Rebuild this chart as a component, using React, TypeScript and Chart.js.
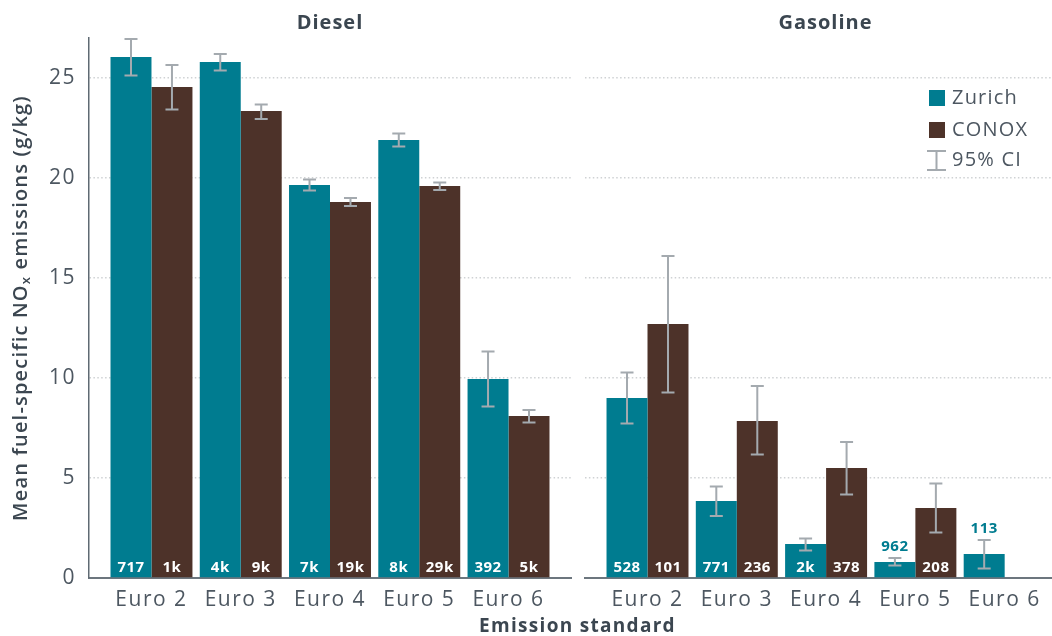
import { useEffect, useRef } from 'react';
import { Chart, registerables } from 'chart.js';

Chart.register(...registerables);

const standards = ['Euro 2', 'Euro 3', 'Euro 4', 'Euro 5', 'Euro 6'];
const panelTitles = ['Diesel', 'Gasoline'];
const seriesNames = ['Zurich', 'CONOX'];
const ciLabel = '95% CI';
const xTitle = 'Emission standard';
const yTitleParts = ['Mean fuel-specific NO', 'x', ' emissions (g/kg)'];

const dieselZurich = [26.05, 25.8, 19.65, 21.9, 9.95];
const dieselZurichLo = [25.12, 25.38, 19.38, 21.58, 8.57];
const dieselZurichHi = [26.95, 26.2, 19.92, 22.22, 11.32];
const dieselZurichN = ['717', '4k', '7k', '8k', '392'];

const dieselConox = [24.55, 23.35, 18.8, 19.6, 8.1];
const dieselConoxLo = [23.42, 22.95, 18.6, 19.4, 7.78];
const dieselConoxHi = [25.65, 23.68, 19.0, 19.78, 8.4];
const dieselConoxN = ['1k', '9k', '19k', '29k', '5k'];

const gasZurich = [9.0, 3.85, 1.7, 0.8, 1.2];
const gasZurichLo = [7.73, 3.1, 1.37, 0.62, 0.48];
const gasZurichHi = [10.28, 4.58, 1.98, 1.0, 1.9];
const gasZurichN = ['528', '771', '2k', '962', '113'];

const gasConox = [12.7, 7.85, 5.5, 3.5, null];
const gasConoxLo = [9.28, 6.17, 4.17, 2.28, null];
const gasConoxHi = [16.1, 9.6, 6.8, 4.72, null];
const gasConoxN = ['101', '236', '378', '208', ''];

const TEAL = '#007c90';
const BROWN = '#4d3229';
const TEXT = '#4d5761';
const TITLE = '#3b4650';
const ERR = '#a4aaaf';
const FONT = '"Open Sans", "Noto Sans", sans-serif';

Chart.defaults.font.family = FONT;

const spacingPlugin = {
  id: 'letterSpacing',
  beforeDraw(chart: any) {
    chart.ctx.letterSpacing = '1.5px';
  },
  afterDraw(chart: any) {
    chart.ctx.letterSpacing = '0px';
  },
};

const errorBarPlugin = {
  id: 'errorBars',
  afterDatasetsDraw(chart: any) {
    const ctx = chart.ctx;
    const ys = chart.scales.y;
    const y0 = ys.getPixelForValue(0);
    chart.data.datasets.forEach((ds: any, di: number) => {
      const meta = chart.getDatasetMeta(di);
      meta.data.forEach((el: any, j: number) => {
        const v = ds.data[j].y;
        const lo = ds.ciLo[j];
        const hi = ds.ciHi[j];
        if (v == null || lo == null || hi == null) return;
        const x = el.x;
        const yl = ys.getPixelForValue(lo);
        const yh = ys.getPixelForValue(hi);
        ctx.save();
        ctx.letterSpacing = '0.5px';
        ctx.strokeStyle = ERR;
        ctx.lineWidth = 2;
        ctx.beginPath();
        ctx.moveTo(x, yl);
        ctx.lineTo(x, yh);
        ctx.moveTo(x - 6.5, yl);
        ctx.lineTo(x + 6.5, yl);
        ctx.moveTo(x - 6.5, yh);
        ctx.lineTo(x + 6.5, yh);
        ctx.stroke();
        const n = ds.counts[j];
        if (n) {
          ctx.font = `bold 15px ${FONT}`;
          ctx.textAlign = 'center';
          ctx.textBaseline = 'middle';
          if (v >= 1.5) {
            ctx.fillStyle = '#ffffff';
            ctx.fillText(n, x, y0 - 10);
          } else {
            ctx.fillStyle = ds.backgroundColor;
            ctx.fillText(n, x, yh - 11);
          }
        }
        ctx.restore();
      });
    });
  },
};

const textPlugin = {
  id: 'extraText',
  afterDraw(chart: any) {
    const ctx = chart.ctx;
    const area = chart.chartArea;
    ctx.save();
    ctx.fillStyle = TITLE;
    ctx.textAlign = 'center';
    ctx.textBaseline = 'middle';
    ctx.letterSpacing = '1px';
    ctx.font = `bold 20px ${FONT}`;
    ctx.fillText(panelTitles[0], 330, 23);
    ctx.fillText(panelTitles[1], 825.5, 23);
    ctx.letterSpacing = '1.3px';
    ctx.font = `bold 19px ${FONT}`;
    ctx.fillText(xTitle, 577.5, 627);
    // rotated y title with subscript
    ctx.letterSpacing = '1.2px';
    const mainFont = `600 20px ${FONT}`;
    const subFont = `600 13px ${FONT}`;
    ctx.font = mainFont;
    const w1 = ctx.measureText(yTitleParts[0]).width;
    const w3 = ctx.measureText(yTitleParts[2]).width;
    ctx.font = subFont;
    const w2 = ctx.measureText(yTitleParts[1]).width;
    const total = w1 + w2 + w3;
    ctx.translate(21, (area.top + area.bottom) / 2);
    ctx.rotate(-Math.PI / 2);
    ctx.textAlign = 'left';
    let x = -total / 2;
    ctx.font = mainFont;
    ctx.fillText(yTitleParts[0], x, 0);
    x += w1;
    ctx.font = subFont;
    ctx.fillText(yTitleParts[1], x, 5);
    x += w2;
    ctx.font = mainFont;
    ctx.fillText(yTitleParts[2], x, 0);
    ctx.restore();
  },
};

const legendPlugin = {
  id: 'customLegend',
  afterDraw(chart: any) {
    const ctx = chart.ctx;
    ctx.save();
    ctx.letterSpacing = '1.2px';
    ctx.font = `20px ${FONT}`;
    ctx.textAlign = 'left';
    ctx.textBaseline = 'middle';
    ctx.fillStyle = TEAL;
    ctx.fillRect(929, 90, 16, 16);
    ctx.fillStyle = BROWN;
    ctx.fillRect(929, 122, 16, 16);
    ctx.strokeStyle = ERR;
    ctx.lineWidth = 2;
    ctx.beginPath();
    ctx.moveTo(936.5, 151);
    ctx.lineTo(936.5, 170);
    ctx.moveTo(927, 151);
    ctx.lineTo(946, 151);
    ctx.moveTo(927, 170);
    ctx.lineTo(946, 170);
    ctx.stroke();
    ctx.fillStyle = TEXT;
    ctx.fillText(seriesNames[0], 952, 98);
    ctx.fillText(seriesNames[1], 952, 130);
    ctx.fillText(ciLabel, 952, 160.5);
    ctx.restore();
  },
};

function makeDataset(label: string, color: string, values: (number | null)[], lo: (number | null)[], hi: (number | null)[], counts: string[]) {
  return {
    label,
    backgroundColor: color,
    borderWidth: 0,
    data: values.map((v, i) => ({ x: i, y: v })),
    ciLo: lo,
    ciHi: hi,
    counts,
    categoryPercentage: 0.918,
    barPercentage: 1,
  };
}

function makeConfig(datasets: any[], panel: 'left' | 'right'): any {
  const left = panel === 'left';
  return {
    type: 'bar',
    data: { datasets },
    plugins: left ? [spacingPlugin, errorBarPlugin, textPlugin] : [spacingPlugin, errorBarPlugin, legendPlugin],
    options: {
      responsive: false,
      animation: false,
      events: [],
      layout: {
        padding: left ? { left: 0, right: 481, top: 38, bottom: 0 } : { left: 585, right: 0, top: 38, bottom: 0 },
      },
      plugins: { legend: { display: false }, tooltip: { enabled: false }, title: { display: false } },
      scales: {
        x: {
          type: 'linear',
          min: -0.7,
          max: left ? 4.7 : 4.53,
          offset: false,
          grid: { display: false, drawTicks: false, offset: false },
          border: { display: true, color: '#6c767e', width: 2 },
          ticks: {
            stepSize: 1,
            includeBounds: false,
            autoSkip: false,
            maxRotation: 0,
            padding: 9,
            color: TEXT,
            font: { size: 21, family: FONT },
            callback: (v: number) => (Number.isInteger(v) && standards[v] ? standards[v] : ''),
          },
          afterFit: (s: any) => {
            s.height = 58;
          },
        },
        y: {
          min: 0,
          max: 27,
          grid: {
            color: (c: any) => (c.tick && c.tick.value === 0 ? 'rgba(0,0,0,0)' : '#cfd2d4'),
            lineWidth: 1.5,
            drawTicks: false,
          },
          border: { display: left, color: '#5f6a73', width: 1.5, dash: [1.5, 2.4] },
          ticks: {
            display: left,
            stepSize: 5,
            includeBounds: false,
            padding: 13,
            color: TEXT,
            font: { size: 21, family: FONT },
          },
          afterFit: (s: any) => {
            s.width = left ? 89 : 0;
          },
        },
      },
    },
  };
}

export default function App() {
  const leftRef = useRef<HTMLCanvasElement>(null);
  const rightRef = useRef<HTMLCanvasElement>(null);

  useEffect(() => {
    const c1 = new Chart(
      leftRef.current as HTMLCanvasElement,
      makeConfig(
        [
          makeDataset(seriesNames[0], TEAL, dieselZurich, dieselZurichLo, dieselZurichHi, dieselZurichN),
          makeDataset(seriesNames[1], BROWN, dieselConox, dieselConoxLo, dieselConoxHi, dieselConoxN),
        ],
        'left'
      )
    );
    const c2 = new Chart(
      rightRef.current as HTMLCanvasElement,
      makeConfig(
        [
          makeDataset(seriesNames[0], TEAL, gasZurich, gasZurichLo, gasZurichHi, gasZurichN),
          makeDataset(seriesNames[1], BROWN, gasConox, gasConoxLo, gasConoxHi, gasConoxN),
        ],
        'right'
      )
    );
    return () => {
      c1.destroy();
      c2.destroy();
    };
  }, []);

  const canvasStyle: any = { position: 'absolute', left: 0, top: 0, width: 1052, height: 636 };
  return (
    <div style={{ position: 'absolute', left: 0, top: 0, width: 1052, height: 636, background: '#ffffff' }}>
      <canvas ref={leftRef} width={1052} height={636} style={canvasStyle} />
      <canvas ref={rightRef} width={1052} height={636} style={canvasStyle} />
    </div>
  );
}
